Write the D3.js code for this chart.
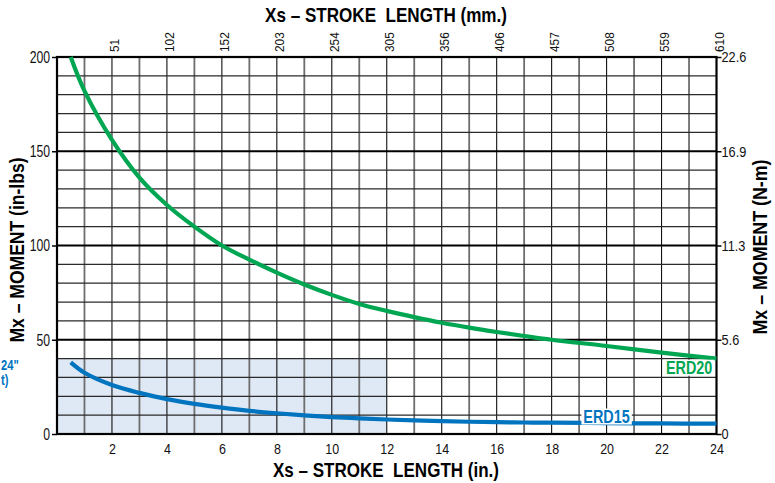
<!DOCTYPE html>
<html><head><meta charset="utf-8">
<script src="https://cdn.jsdelivr.net/npm/d3@7"></script>
<style>
html,body{margin:0;padding:0;background:#fff;}
svg{display:block;font-family:"Liberation Sans",Arial,sans-serif;}
</style></head>
<body><svg id="c" width="775" height="483"></svg>
<script>
// ---- data ----
const strokeIn = [0.5, 1, 2, 3, 4, 5, 6, 7, 8, 9, 10, 11, 12, 13, 14, 15, 16, 17, 18, 20, 22, 24];
const erd20 = [200, 182, 156, 136, 121.5, 110, 100, 92.5, 85.6, 79.3, 73.8, 69, 65.3, 62, 59, 56.4, 54.1, 52, 50, 46.7, 43.2, 40];
const erd15 = [38, 32.5, 26, 21.8, 18.5, 16, 14, 12.3, 11, 9.9, 9, 8.3, 7.7, 7.2, 6.8, 6.5, 6.3, 6.1, 6.0, 5.8, 5.6, 5.5];
const bottomTicks = [2, 4, 6, 8, 10, 12, 14, 16, 18, 20, 22, 24];
const topTickLabels = ["51", "102", "152", "203", "254", "305", "356", "406", "457", "508", "559", "610"];
const leftTicks = [0, 50, 100, 150, 200];
const rightTickLabels = ["0", "5.6", "11.3", "16.9", "22.6"];
const shadedRegion = {x0: 0, x1: 12, y0: 0, y1: 40};

const svg = d3.select("#c");
const L = 57, R = 716.5, T = 57, B = 434;
const x = d3.scaleLinear().domain([0, 24]).range([L, R]);
const y = d3.scaleLinear().domain([0, 200]).range([B, T]);

// condense helper (mimics a narrow typeface)
function condense(sel, f) {
  sel.each(function() {
    const w = this.getComputedTextLength();
    d3.select(this).attr("textLength", w * f).attr("lengthAdjust", "spacingAndGlyphs");
  });
}

// shaded area
svg.append("rect")
  .attr("x", x(shadedRegion.x0)).attr("y", y(shadedRegion.y1))
  .attr("width", x(shadedRegion.x1) - x(shadedRegion.x0))
  .attr("height", y(shadedRegion.y0) - y(shadedRegion.y1))
  .attr("fill", "#dfe8f5");

// vertical grid
const g = svg.append("g");
d3.range(1, 24).forEach(v => {
  const odd = v % 2 === 1;
  g.append("line").attr("x1", x(v)).attr("x2", x(v)).attr("y1", T).attr("y2", B)
    .attr("stroke", odd ? "#6e6e6e" : "#111").attr("stroke-width", odd ? 1.8 : 1.1);
});
// horizontal grid
d3.range(10, 200, 10).forEach(v => {
  const major = v % 50 === 0;
  g.append("line").attr("x1", L).attr("x2", R).attr("y1", y(v)).attr("y2", y(v))
    .attr("stroke", major ? "#000" : "#2a2a2a").attr("stroke-width", major ? 2 : 1.2);
});

// frame
svg.append("rect").attr("x", L).attr("y", T).attr("width", R - L).attr("height", B - T)
  .attr("fill", "none").attr("stroke", "#000").attr("stroke-width", 2.2);

// left axis
const la = svg.append("g").attr("transform", `translate(${L},0)`)
  .call(d3.axisLeft(y).tickValues(leftTicks).tickSize(5).tickPadding(2));
la.select(".domain").remove();
la.selectAll("line").attr("stroke", "#000").attr("stroke-width", 1.5);
la.selectAll("text").attr("font-size", 16.5).attr("fill", "#111").call(condense, 0.74);

// right axis
const ra = svg.append("g").attr("transform", `translate(${R},0)`)
  .call(d3.axisRight(y).tickValues(leftTicks).tickSize(5).tickPadding(0)
    .tickFormat((d, i) => rightTickLabels[i]));
ra.select(".domain").remove();
ra.selectAll("line").attr("stroke", "#000").attr("stroke-width", 1.5);
ra.selectAll("text").attr("font-size", 15).attr("fill", "#111").call(condense, 0.85);

// bottom axis
const ba = svg.append("g").attr("transform", `translate(0,${B})`)
  .call(d3.axisBottom(x).tickValues(bottomTicks).tickSize(0).tickPadding(9.5));
ba.select(".domain").remove();
ba.selectAll("text").attr("font-size", 15).attr("fill", "#111").call(condense, 0.83);

// top axis (mm), rotated labels
const ta = svg.append("g").attr("transform", `translate(0,${T})`)
  .call(d3.axisTop(x).tickValues(bottomTicks).tickSize(0)
    .tickFormat((d, i) => topTickLabels[i]));
ta.select(".domain").remove();
ta.selectAll("text").attr("font-size", 13.5).attr("fill", "#111")
  .attr("text-anchor", "start").attr("x", 5).attr("y", 0).attr("dy", "0.35em")
  .attr("transform", "translate(2,0) rotate(-90)").call(condense, 0.88);

// curves
const line = d3.line().x((d, i) => x(strokeIn[i])).y(d => y(d)).curve(d3.curveCatmullRom.alpha(0.5));
svg.append("path").datum(erd20).attr("d", line).attr("fill", "none")
  .attr("stroke", "#00a651").attr("stroke-width", 4.2).attr("stroke-linecap", "butt");
svg.append("path").datum(erd15).attr("d", line).attr("fill", "none")
  .attr("stroke", "#0074bf").attr("stroke-width", 4.2).attr("stroke-linecap", "butt");

// series labels with white background
function label(txt, cx, cy, color, anchor) {
  const t = svg.append("text").attr("x", cx).attr("y", cy).attr("text-anchor", anchor)
    .attr("dominant-baseline", "middle").attr("font-size", 18).attr("font-weight", "bold")
    .attr("fill", color).text(txt);
  condense(t, 0.8);
  const bb = t.node().getBBox();
  svg.insert("rect", function() { return t.node(); })
    .attr("x", bb.x - 2).attr("y", bb.y + 2).attr("width", bb.width + 4).attr("height", bb.height - 4)
    .attr("fill", "#fff");
}
label("ERD20", x(23.85), y(34.5), "#00a651", "end");
label("ERD15", x(20.0), y(8.6), "#0074bf", "middle");

// axis titles
function title(txt, tf, len, size) {
  svg.append("text").attr("transform", tf).attr("text-anchor", "middle")
    .attr("dominant-baseline", "middle").attr("font-size", size).attr("font-weight", "bold")
    .attr("xml:space", "preserve").attr("textLength", len).attr("lengthAdjust", "spacingAndGlyphs")
    .text(txt);
}
title("Xs – STROKE  LENGTH (mm.)", "translate(386,16)", 242, 21);
title("Xs – STROKE  LENGTH (in.)", "translate(386,472)", 226, 20);
title("Mx – MOMENT (in-lbs)", "translate(19,250) rotate(-90)", 185, 20);
title("Mx – MOMENT (N-m)", "translate(762,247) rotate(-90)", 175, 20);

// side note (partly cut in the reference)
const note = svg.append("g").attr("fill", "#0074bf").attr("font-weight", "bold").attr("font-size", 14);
note.append("text").attr("x", 1).attr("y", 366).attr("dominant-baseline", "middle").text("24\"").call(condense, 0.8);
note.append("text").attr("x", 1).attr("y", 381).attr("dominant-baseline", "middle").text("t)").call(condense, 0.8);
</script></body></html>
